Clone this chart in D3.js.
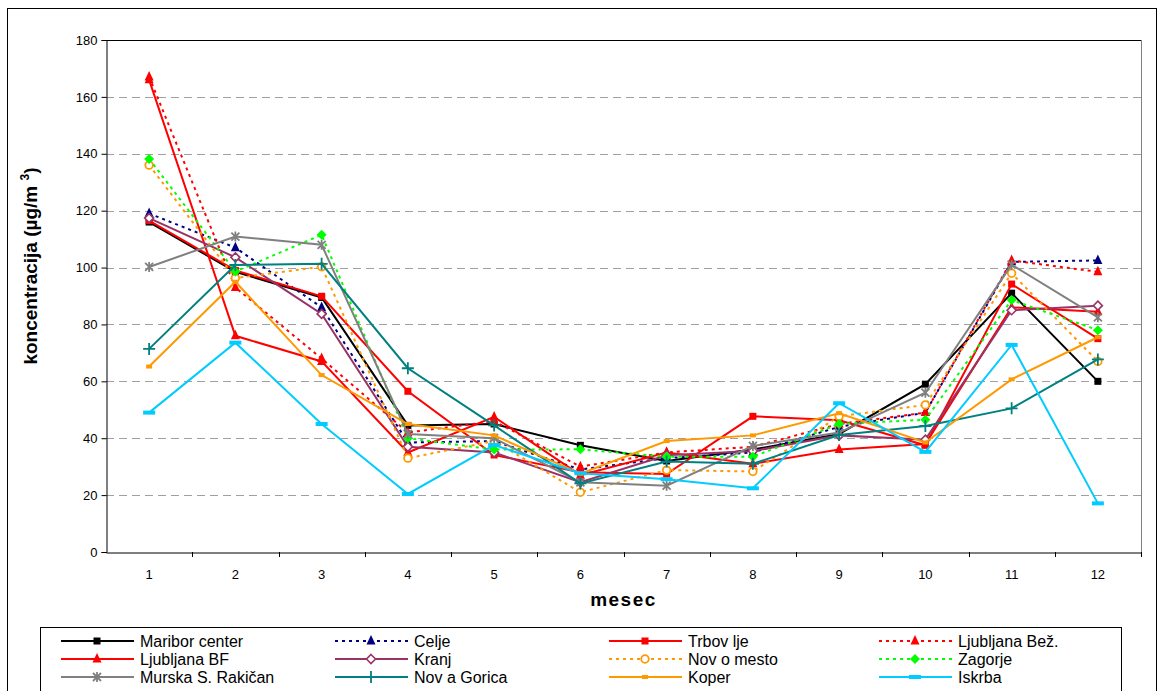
<!DOCTYPE html>
<html><head><meta charset="utf-8">
<script src="https://cdn.jsdelivr.net/npm/d3@7"></script>
<style>body{margin:0;background:#fff}svg{display:block}</style>
</head><body>
<svg id="c" width="1158" height="691"></svg>
<script>
const months = [1,2,3,4,5,6,7,8,9,10,11,12];
const yTicks = [0,20,40,60,80,100,120,140,160,180];

const mariborCenter = [116,98.5,89.5,44.5,45,37.5,32,36,41.5,59,91,60];
const celje = [119,107,86,38.5,39,29,33,35,44,49,102,102.5];
const trbovlje = [116.5,99,89.9,56.5,34.1,28,27.4,47.7,46.3,37.5,94.2,75];
const ljubljanaBez = [167,93,68,42,46,30,35,37,45,49,102.5,98.5];
const ljubljanaBF = [166,76,67,35,47.5,27,35,31,36,38,86,84.5];
const kranj = [117.4,103.6,83.7,37,35,24.5,34,35.5,41,39.5,85,86.6];
const novoMesto = [136,96.3,100.3,33,39,21,28.8,28.3,47.7,51.7,98,67];
const zagorje = [138.2,98.6,111.5,40,36,36.1,33.5,33.5,45,46.5,88.6,78];
const murska = [100.2,110.9,108,41.5,40,24.5,23.3,37.3,42,56,101,82.5];
const novaGorica = [71.4,100.9,101.3,64.6,44.5,24.1,31.8,31,41.1,44.3,50.5,67.7];
const koper = [65.2,95,62.2,45,41,27.5,39,41,48.8,38.5,60.7,75.5];
const iskrba = [49,73.6,45,20.4,37.6,27.7,25.6,22.4,52.3,35.2,72.8,17.1];

const seriesNames = ["Maribor center","Celje","Trbov lje","Ljubljana Bež.","Ljubljana BF","Kranj","Nov o mesto","Zagorje","Murska S. Rakičan","Nov a Gorica","Koper","Iskrba"];
const seriesValues = [mariborCenter,celje,trbovlje,ljubljanaBez,ljubljanaBF,kranj,novoMesto,zagorje,murska,novaGorica,koper,iskrba];

const styles = [
  {c:"#000000", dash:null, m:"square", w:2},
  {c:"#000080", dash:"3,4", m:"triangle", w:2},
  {c:"#FF0000", dash:null, m:"square", w:2},
  {c:"#FF0000", dash:"3,4", m:"triangle", w:2},
  {c:"#FF0000", dash:null, m:"triangle", w:2},
  {c:"#993366", dash:null, m:"diamondOpen", w:2},
  {c:"#FF9900", dash:"3,4", m:"circleOpen", w:2},
  {c:"#00FF00", dash:"3,4", m:"diamond", w:2},
  {c:"#808080", dash:null, m:"star", w:2},
  {c:"#008080", dash:null, m:"plus", w:2},
  {c:"#FF9900", dash:null, m:"dash", w:2},
  {c:"#00CCFF", dash:null, m:"bar", w:2}
];

const svg = d3.select("#c");
const L=106, R=1141, T=40, B=552;
const x = d3.scaleBand().domain(months).range([L,R]);
const y = d3.scaleLinear().domain([0,180]).range([B,T]);
const cx = d => x(d)+x.bandwidth()/2;
const FF = "Liberation Sans, Arial";

// outer border
svg.append("rect").attr("x",7.5).attr("y",8.5).attr("width",1149).attr("height",700)
  .attr("fill","none").attr("stroke","#000").attr("stroke-width",1);

// gridlines
svg.append("g").selectAll("line").data(yTicks.filter(t=>t>0&&t<180)).join("line")
  .attr("x1",L).attr("x2",R).attr("y1",d=>Math.round(y(d))+0.5).attr("y2",d=>Math.round(y(d))+0.5)
  .attr("stroke","#a0a0a0").attr("stroke-width",1).attr("stroke-dasharray","8,5");

// plot border
svg.append("line").attr("x1",L).attr("x2",R).attr("y1",T+0.5).attr("y2",T+0.5).attr("stroke","#000");
svg.append("line").attr("x1",R+0.5).attr("x2",R+0.5).attr("y1",T).attr("y2",B).attr("stroke","#808080");

// axes
const ya = svg.append("g").attr("transform",`translate(${L+0.5},0)`)
  .call(d3.axisLeft(y).tickValues(yTicks).tickSize(5).tickPadding(4));
ya.select(".domain").attr("stroke","#000");
ya.selectAll("text").attr("font-family",FF).attr("font-size",13).attr("fill","#000");

const xa = svg.append("g").attr("transform",`translate(0,${B+0.5})`)
  .call(d3.axisBottom(x).tickSize(0).tickPadding(17));
xa.select(".domain").attr("stroke","#000");
xa.selectAll("text").attr("font-family",FF).attr("font-size",13).attr("fill","#000");
svg.append("g").selectAll("line").data(months.slice(1)).join("line")
  .attr("x1",d=>Math.round(x(d))+0.5).attr("x2",d=>Math.round(x(d))+0.5).attr("y1",B).attr("y2",B+5).attr("stroke","#000");
svg.append("line").attr("x1",R+0.5).attr("x2",R+0.5).attr("y1",B).attr("y2",B+5).attr("stroke","#000");

// axis titles
svg.append("text").attr("x",(L+R)/2).attr("y",606).attr("text-anchor","middle")
  .attr("font-family",FF).attr("font-weight","bold").attr("font-size",19)
  .attr("letter-spacing",1.5).text("mesec");
const yl = svg.append("text").attr("transform","translate(37,266) rotate(-90)").attr("text-anchor","middle")
  .attr("font-family",FF).attr("font-weight","bold").attr("font-size",19);
yl.append("tspan").text("koncentracija (µg/m ");
yl.append("tspan").attr("font-size",12).attr("dy",-8).text("3");
yl.append("tspan").attr("dy",8).text(")");

// marker drawing
function marker(g, type, color, px, py){
  const s=4;
  switch(type){
    case "square": g.append("rect").attr("x",px-3.5).attr("y",py-3.5).attr("width",7).attr("height",7).attr("fill",color); break;
    case "triangle": g.append("path").attr("d",`M${px},${py-6}L${px+4.5},${py+3.5}L${px-4.5},${py+3.5}Z`).attr("fill",color); break;
    case "diamond": g.append("path").attr("d",`M${px},${py-5}L${px+5},${py}L${px},${py+5}L${px-5},${py}Z`).attr("fill",color); break;
    case "diamondOpen": g.append("path").attr("d",`M${px},${py-4.5}L${px+4.5},${py}L${px},${py+4.5}L${px-4.5},${py}Z`).attr("fill","#fff").attr("stroke",color).attr("stroke-width",1.6); break;
    case "circleOpen": g.append("circle").attr("cx",px).attr("cy",py).attr("r",3.8).attr("fill","#fff").attr("stroke",color).attr("stroke-width",1.8); break;
    case "star": g.append("path").attr("d",`M${px-s},${py-s}L${px+s},${py+s}M${px-s},${py+s}L${px+s},${py-s}M${px},${py-s-1}L${px},${py+s+1}`).attr("stroke",color).attr("stroke-width",1.8).attr("fill","none"); break;
    case "plus": g.append("path").attr("d",`M${px-6},${py}L${px+6},${py}M${px},${py-6}L${px},${py+6}`).attr("stroke",color).attr("stroke-width",1.8); break;
    case "dash": g.append("rect").attr("x",px-3).attr("y",py-2).attr("width",6).attr("height",4).attr("fill",color); break;
    case "bar": g.append("rect").attr("x",px-6).attr("y",py-2).attr("width",12).attr("height",4).attr("fill",color); break;
  }
}

const line = d3.line().x((d,i)=>cx(months[i])).y(d=>y(d));
seriesValues.forEach((vals,k)=>{
  const st=styles[k];
  const g=svg.append("g");
  g.append("path").datum(vals).attr("d",line).attr("fill","none").attr("stroke",st.c)
    .attr("stroke-width",st.w).attr("stroke-dasharray",st.dash);
  vals.forEach((v,i)=>marker(g,st.m,st.c,cx(months[i]),y(v)));
});

// legend
svg.append("rect").attr("x",40.5).attr("y",627.5).attr("width",1081).attr("height",70)
  .attr("fill","#fff").attr("stroke","#000");
const colX=[61,335,609,879], rowY=[641,659,677];
seriesNames.forEach((n,k)=>{
  const col=k%4, row=Math.floor(k/4), st=styles[k];
  const g=svg.append("g");
  const x0=colX[col], yy=rowY[row];
  g.append("line").attr("x1",x0).attr("x2",x0+73).attr("y1",yy).attr("y2",yy)
    .attr("stroke",st.c).attr("stroke-width",2).attr("stroke-dasharray",st.dash);
  marker(g,st.m,st.c,x0+36,yy);
  g.append("text").attr("x",x0+79).attr("y",yy+5.5).attr("font-family",FF)
    .attr("font-size",16).attr("fill","#000").text(n);
});
</script>
</body></html>
